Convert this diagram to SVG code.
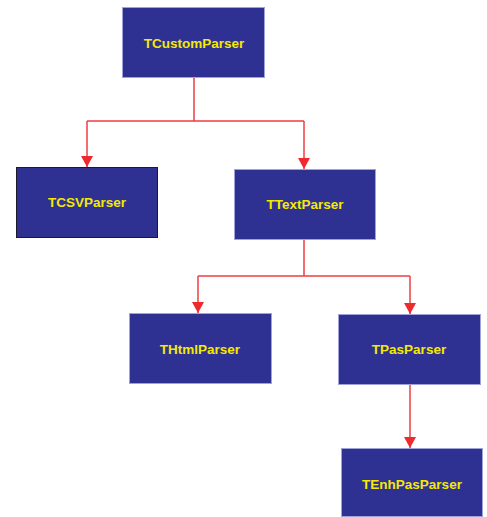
<svg xmlns="http://www.w3.org/2000/svg" width="487" height="517" viewBox="0 0 487 517">
<style>
.box{fill:#2E3192;stroke:#A0A3D8;stroke-width:1}
.dark{stroke:#1a1a2a}
.lbl{fill:#F5E900;font-family:"Liberation Sans",Arial,sans-serif;font-weight:bold;font-size:13.5px;text-anchor:middle;dominant-baseline:central}
.con{fill:none;stroke:#EF3E42;stroke-width:1.5}
</style>
<defs>
<marker id="arr" markerWidth="12" markerHeight="12" refX="11" refY="6" orient="auto" markerUnits="userSpaceOnUse" viewBox="0 0 12 12">
<path d="M0,0 L11,6 L0,12 Z" fill="#EE2A2E"/>
</marker>
</defs>
<rect width="487" height="517" fill="#fff"/>
<g id="connectors">
<path class="con" d="M194,78 V121 M87,121 H304"/>
<path class="con" d="M87,121 V167" marker-end="url(#arr)"/>
<path class="con" d="M304,121 V169" marker-end="url(#arr)"/>
<path class="con" d="M304,240 V276 M198,276 H410"/>
<path class="con" d="M198,276 V313" marker-end="url(#arr)"/>
<path class="con" d="M410,276 V314" marker-end="url(#arr)"/>
<path class="con" d="M410,385 V448" marker-end="url(#arr)"/>
</g>
<g id="TCustomParser"><rect class="box" x="122.5" y="7.5" width="142" height="70"/><text class="lbl" x="194" y="43">TCustomParser</text></g>
<g id="TCSVParser"><rect class="box dark" x="16.5" y="167.5" width="141" height="70"/><text class="lbl" x="87" y="202">TCSVParser</text></g>
<g id="TTextParser"><rect class="box" x="234.5" y="169.5" width="141" height="70"/><text class="lbl" x="305" y="204">TTextParser</text></g>
<g id="THtmlParser"><rect class="box" x="129.5" y="313.5" width="142" height="70"/><text class="lbl" x="200" y="349">THtmlParser</text></g>
<g id="TPasParser"><rect class="box" x="338.5" y="314.5" width="142" height="70"/><text class="lbl" x="409" y="349">TPasParser</text></g>
<g id="TEnhPasParser"><rect class="box" x="341.5" y="448.5" width="141" height="68"/><text class="lbl" x="412" y="484">TEnhPasParser</text></g>
</svg>
